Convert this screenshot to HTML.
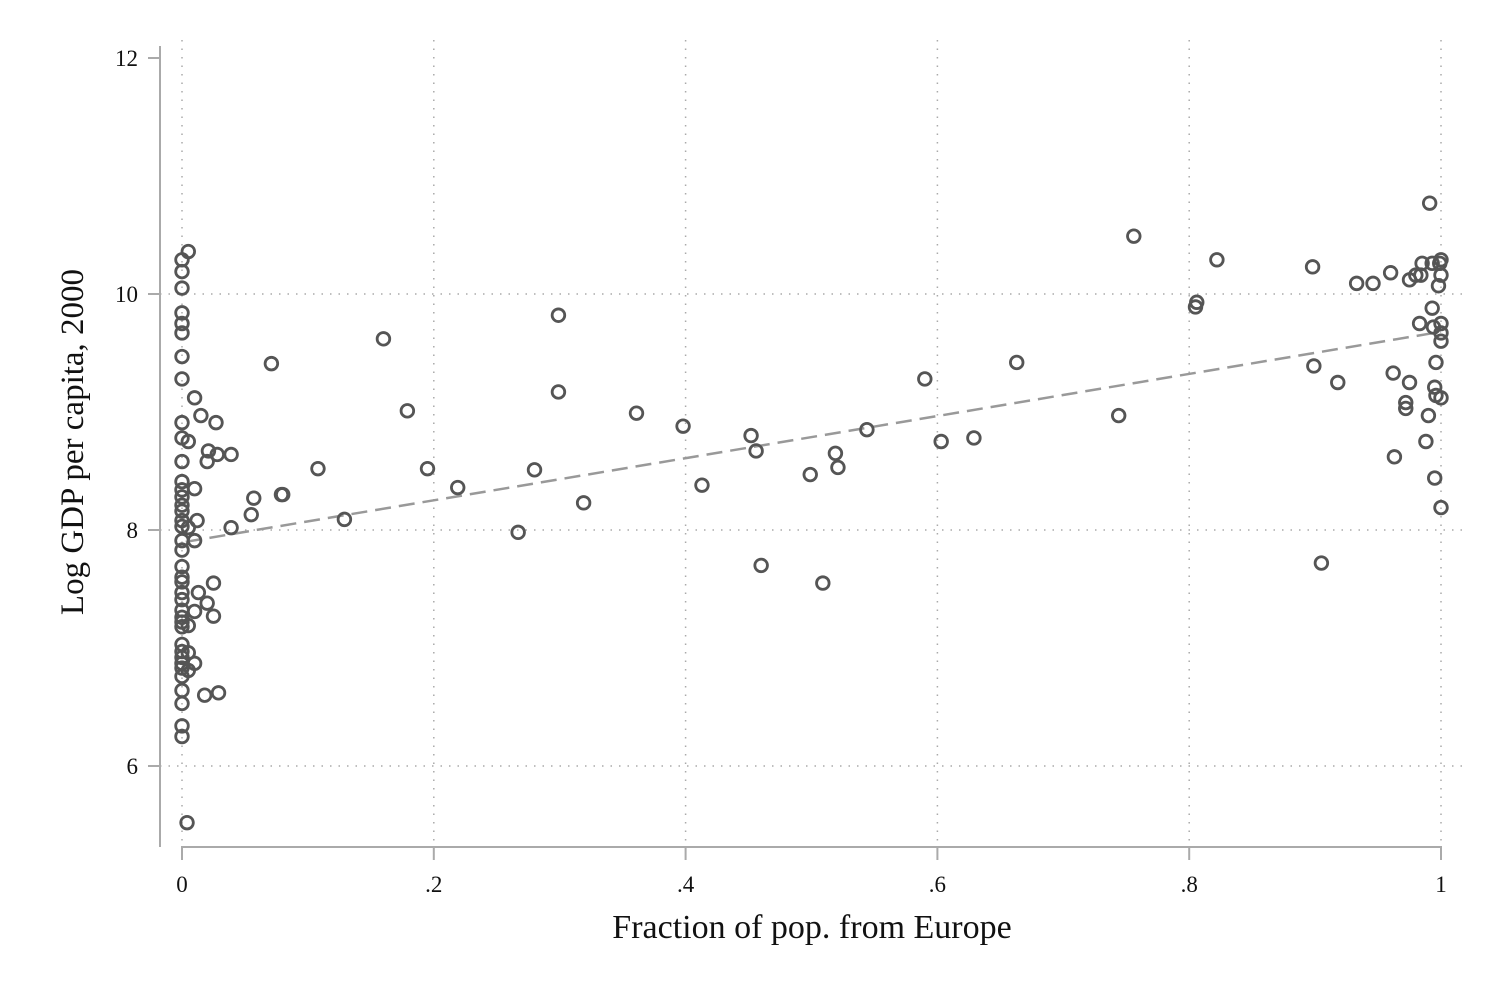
<!DOCTYPE html>
<html><head><meta charset="utf-8"><style>
html,body{margin:0;padding:0;background:#fff;}
svg{display:block;font-family:"Liberation Serif",serif;}
</style></head><body>
<svg id="chart" width="1500" height="1000" viewBox="0 0 1500 1000" xmlns="http://www.w3.org/2000/svg">
<rect width="1500" height="1000" fill="#fff"/>
<g id="grid"></g>
<g id="axes"></g>
<g id="fit"></g>
<g id="pts"></g>
<text x="812" y="938" font-size="34" text-anchor="middle" fill="#111">Fraction of pop. from Europe</text>
<text transform="translate(83,442) rotate(-90)" font-size="33" text-anchor="middle" fill="#111">Log GDP per capita, 2000</text>
</svg>
<script>
const xTicks=[0,0.2,0.4,0.6,0.8,1];
const xTickLabels=["0",".2",".4",".6",".8","1"];
const yTicks=[6,8,10,12];
const yTickLabels=["6","8","10","12"];
const xVals=[0,0,0,0,0,0,0,0,0,0,0,0,0,0,0,0,0,0,0,0,0,0,0,0,0,0,0,0,0,0,0,0,0,0,0,0,0,0,0,
.005,.005,.01,.015,.027,.021,.028,.039,.02,.01,.012,.005,.01,.039,.025,.013,.02,.025,.01,.005,.005,.01,.005,.018,.029,.004,
.055,.057,.071,.079,.08,.108,.129,.16,.179,.195,.219,.267,.28,.299,.299,.319,.361,.398,.413,.452,.456,.46,.499,.509,.519,.521,.544,.59,.603,.629,.663,.744,.756,.805,.806,.822,.898,.899,.905,.918,.933,.946,.96,.962,.963,.972,.972,.975,.975,.98,.983,.984,.985,.988,.99,.991,.993,.993,.994,.995,.996,.995,.996,.998,.999,1,1,1,1,1,1,1];
const yVals=[10.29,10.19,10.05,9.84,9.75,9.67,9.47,9.28,8.91,8.78,8.58,8.41,8.34,8.28,8.21,8.16,8.08,8.03,7.91,7.83,7.69,7.60,7.56,7.47,7.41,7.32,7.26,7.22,7.18,7.03,6.97,6.92,6.87,6.83,6.76,6.64,6.53,6.34,6.25,
10.36,8.75,9.12,8.97,8.91,8.67,8.64,8.64,8.58,8.35,8.08,8.02,7.91,8.02,7.55,7.47,7.38,7.27,7.31,7.19,6.96,6.87,6.81,6.60,6.62,5.52,
8.13,8.27,9.41,8.30,8.30,8.52,8.09,9.62,9.01,8.52,8.36,7.98,8.51,9.82,9.17,8.23,8.99,8.88,8.38,8.80,8.67,7.70,8.47,7.55,8.65,8.53,8.85,9.28,8.75,8.78,9.42,8.97,10.49,9.89,9.93,10.29,10.23,9.39,7.72,9.25,10.09,10.09,10.18,9.33,8.62,9.08,9.03,9.25,10.12,10.16,9.75,10.16,10.26,8.75,8.97,10.77,10.26,9.88,9.72,8.44,9.42,9.21,9.14,10.07,10.26,10.29,10.16,9.75,9.67,9.60,9.12,8.19];
const fitX=[0.003,1];
const fitY=[7.90,9.68];

const NS="http://www.w3.org/2000/svg";
const sx=v=>182+v*1259;
const sy=v=>58+(12-v)*118;
function mk(tag,attrs,parent){const e=document.createElementNS(NS,tag);for(const k in attrs)e.setAttribute(k,attrs[k]);parent.appendChild(e);return e;}
const grid=document.getElementById('grid'),axes=document.getElementById('axes'),fit=document.getElementById('fit'),pts=document.getElementById('pts');

yTicks.forEach((t,i)=>{
  if(t!==12){const g=mk('line',{x1:160,x2:1462,y1:sy(t),y2:sy(t),stroke:'#aaa','stroke-width':1.5,'stroke-dasharray':'1.5 7'},grid);
  
  }
  const tk=mk('line',{x1:148,x2:160,y1:sy(t),y2:sy(t),stroke:'#aaa','stroke-width':2},axes);
  
  
  const lb=mk('text',{x:138,y:sy(t)+8,'font-size':23,'text-anchor':'end',fill:'#111'},axes);
  lb.textContent=yTickLabels[i];
  
  
});
xTicks.forEach((t,i)=>{
  const g=mk('line',{x1:sx(t),x2:sx(t),y1:40,y2:845,stroke:'#aaa','stroke-width':1.5,'stroke-dasharray':'1.5 7'},grid);
  
  
  const tk=mk('line',{x1:sx(t),x2:sx(t),y1:847,y2:860,stroke:'#aaa','stroke-width':2},axes);
  
  
  const lb=mk('text',{x:sx(t),y:892,'font-size':23,'text-anchor':'middle',fill:'#111'},axes);
  lb.textContent=xTickLabels[i];
  
  
});
const ya=mk('line',{x1:160,x2:160,y1:46,y2:847,stroke:'#aaa','stroke-width':2},axes);


const xa=mk('line',{x1:181,x2:1442,y1:847,y2:847,stroke:'#aaa','stroke-width':2},axes);



const fl=mk('line',{x1:sx(fitX[0]),y1:sy(fitY[0]),x2:sx(fitX[1]),y2:sy(fitY[1]),stroke:'#999','stroke-width':2.5,'stroke-dasharray':'16 8'},fit);



xVals.forEach((x,i)=>{
  const c=mk('circle',{cx:sx(x),cy:sy(yVals[i]),r:6.3,fill:'none',stroke:'#555','stroke-width':2.8},pts);
  
  
});
</script>
</body></html>
